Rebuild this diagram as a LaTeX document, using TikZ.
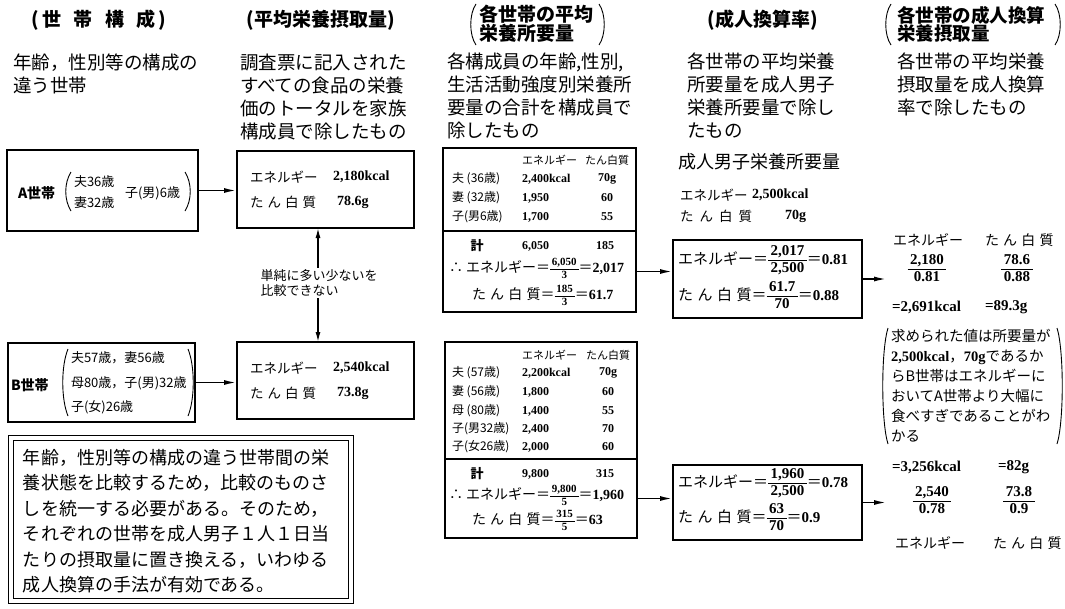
\RequirePackage{fix-cm}
\documentclass[tikz,border=0pt]{standalone}
\usepackage{amsmath}
\usepackage{fontspec}
\setmainfont{Noto Sans CJK JP}
\newfontfamily\numf{Liberation Serif}
\usetikzlibrary{arrows.meta}
\newcommand\fsz[2]{\fontsize{#1}{#2}\selectfont}
\newcommand\nm[1]{{\numf\bfseries #1}}
\newcommand\tpk{た\hspace{0.3em}ん\hspace{0.3em}白\hspace{0.3em}質}
\newcommand\cfr[2]{{\setlength\arrayrulewidth{0.9pt}\def\arraystretch{0.75}\begin{tabular}{@{\,}c@{\,}}\nm{#1}\\\noalign{\vskip0.5pt}\hline\noalign{\vskip1.8pt}\nm{#2}\end{tabular}}}
\newcommand\sfr[2]{{\fsz{11}{13}\cfr{#1}{#2}}}
\begin{document}
\begin{tikzpicture}[x=1pt,y=-1pt,
  every node/.style={inner sep=0pt, outer sep=0pt},
  box/.style={draw, line width=1.5pt},
  paren/.style={line width=0.9pt},
  arr/.style={-{Latex[length=13pt,width=5pt]}, line width=1.8pt},
  varr/.style={{Latex[length=10pt,width=5pt]}-{Latex[length=10pt,width=5pt]}, line width=1.4pt},
  hdr/.style={font=\fsz{19}{18}\bfseries},
  desc/.style={font=\fsz{18.5}{23}, align=left, anchor=north west},
  tb/.style={font=\fsz{12}{14}},
  lw/.style={anchor=west}]
\useasboundingbox (0,0) rectangle (1065,608);

% headers
\node[hdr] (h1) at (99,20) {(\,世\hspace{0.65em}帯\hspace{0.65em}構\hspace{0.65em}成\,)};
\node[hdr] (h2) at (321,20) {(平均栄養摂取量)};
\node[hdr, anchor=west, align=left] (h3) at (479,24) {各世帯の平均\\栄養所要量};
\draw[paren] (476,4) .. controls (469,14) and (469,35) .. (476,45);
\draw[paren] (599,4) .. controls (606,14) and (606,35) .. (599,45);
\node[hdr] (h4) at (763,20) {(成人換算率)};
\node[hdr, anchor=west, align=left, font=\fsz{18.5}{18}\bfseries] (h5) at (897,24) {各世帯の成人換算\\栄養摂取量};
\draw[paren] (891,4) .. controls (884,14) and (884,35) .. (891,45);
\draw[paren] (1055,4) .. controls (1062,14) and (1062,35) .. (1055,45);

% descriptions
\node[desc] (d1) at (13,54) {年齢，性別等の構成の\\違う世帯};
\node[desc] (d2) at (240,54) {調査票に記入された\\すべての食品の栄養\\価のトータルを家族\\構成員で除したもの};
\node[desc] (d3) at (447,53) {各構成員の年齢,性別,\\生活活動強度別栄養所\\要量の合計を構成員で\\除したもの};
\node[desc] (d4) at (687,53) {各世帯の平均栄養\\所要量を成人男子\\栄養所要量で除し\\たもの};
\node[desc] (d5) at (897,53) {各世帯の平均栄養\\摂取量を成人換算\\率で除したもの};

% household boxes
\node[box, minimum width=191pt, minimum height=81pt] (bA) at (102.5,190.5) {};
\node[lw, font=\fsz{14}{16}\bfseries] (bAlab) at (18,193) {A世帯};
\draw[paren] (71,172) .. controls (64,183) and (64,200) .. (71,211);
\draw[paren] (185,172) .. controls (192,183) and (192,200) .. (185,211);
\node[lw, font=\fsz{13}{16}] (bAm1) at (74,182) {夫36歳};
\node[lw, font=\fsz{13}{16}] (bAm2) at (74,203) {妻32歳};
\node[lw, font=\fsz{13}{16}] (bAm3) at (125,193) {子(男)6歳};

\node[box, minimum width=187pt, minimum height=79pt] (bB) at (101.5,382.5) {};
\node[lw, font=\fsz{14}{16}\bfseries] (bBlab) at (11,385) {B世帯};
\draw[paren] (68,349) .. controls (61,366) and (61,399) .. (68,416);
\draw[paren] (188,349) .. controls (195,366) and (195,399) .. (188,416);
\node[lw, font=\fsz{13}{16}] (bBm1) at (71,358) {夫57歳，妻56歳};
\node[lw, font=\fsz{13}{16}] (bBm2) at (71,383) {母80歳，子(男)32歳};
\node[lw, font=\fsz{13}{16}] (bBm3) at (71,407) {子(女)26歳};

% intake boxes
\node[box, minimum width=177pt, minimum height=77pt] (iA) at (325.5,189.5) {};
\node[lw, font=\fsz{13.5}{16}] (iAe) at (250,177) {エネルギー};
\node[lw, font=\fsz{14}{16}] (iAev) at (333,177) {\nm{2,180kcal}};
\node[lw, font=\fsz{13.5}{16}] (iAp) at (250,202) {\tpk};
\node[lw, font=\fsz{14}{16}] (iApv) at (337,202) {\nm{78.6g}};

\node[box, minimum width=177pt, minimum height=77pt] (iB) at (325.5,380.5) {};
\node[lw, font=\fsz{13.5}{16}] (iBe) at (250,368) {エネルギー};
\node[lw, font=\fsz{14}{16}] (iBev) at (333,368) {\nm{2,540kcal}};
\node[lw, font=\fsz{13.5}{16}] (iBp) at (250,393) {\tpk};
\node[lw, font=\fsz{14}{16}] (iBpv) at (337,393) {\nm{73.8g}};

\draw[arr] (bA.east) -- (bA.east -| iA.west);
\draw[arr] (bB.east) -- (bB.east -| iB.west);

% comparison arrow
\coordinate (cmpx) at (318,0);
\draw[varr] (iA.south -| cmpx) -- (iB.north -| cmpx);
\node[fill=white, align=left, font=\fsz{13}{15}, inner sep=1pt] (cmp) at (319,283) {単純に多い少ないを\\比較できない};

% requirement tables A
\node[box, minimum width=193pt, minimum height=83pt] (tA1) at (539.5,189.5) {};
\node[box, minimum width=193pt, minimum height=81pt] (tA2) at (539.5,271.5) {};
\node[lw, font=\fsz{11}{13}] (tAhe) at (522,160) {エネルギー};
\node[font=\fsz{11}{13}] (tAhp) at (607,160) {たん白質};
\foreach \lab/\en/\pr/\yy [count=\i] in {{夫 (36歳)}/{2,400kcal}/{70g}/179,{妻 (32歳)}/{1,950}/{60}/198,{子(男6歳)}/{1,700}/{55}/217}{
  \node[lw, tb] (tAl\i) at (452,\yy) {\lab};
  \node[lw, tb] (tAe\i) at (522,\yy) {\nm{\en}};
  \node[tb] (tAp\i) at (607,\yy) {\nm{\pr}};
}
\node[font=\fsz{13}{15}\bfseries] (tAsum) at (477,246) {計};
\node[lw, tb] (tAsume) at (522,246) {\nm{6,050}};
\node[tb] (tAsump) at (605,246) {\nm{185}};
\node[lw, font=\fsz{14}{16}] (tAce) at (449,270) {∴\ エネルギー＝\sfr{6,050}{3}＝\nm{2,017}};
\node[lw, font=\fsz{14}{16}] (tAcp) at (472,297) {\tpk＝\sfr{185}{3}＝\nm{61.7}};

% requirement tables B
\node[box, minimum width=192pt, minimum height=117pt] (tB1) at (541,400.5) {};
\node[box, minimum width=192pt, minimum height=79pt] (tB2) at (541,498.5) {};
\node[lw, font=\fsz{11}{13}] (tBhe) at (522,355) {エネルギー};
\node[font=\fsz{11}{13}] (tBhp) at (608,355) {たん白質};
\foreach \lab/\en/\pr/\yy [count=\i] in {{夫 (57歳)}/{2,200kcal}/{70g}/373,{妻 (56歳)}/{1,800}/{60}/392,{母 (80歳)}/{1,400}/{55}/411,{子(男32歳)}/{2,400}/{70}/429,{子(女26歳)}/{2,000}/{60}/447}{
  \node[lw, tb] (tBl\i) at (452,\yy) {\lab};
  \node[lw, tb] (tBe\i) at (522,\yy) {\nm{\en}};
  \node[tb] (tBp\i) at (608,\yy) {\nm{\pr}};
}
\node[font=\fsz{13}{15}\bfseries] (tBsum) at (477,474) {計};
\node[lw, tb] (tBsume) at (522,474) {\nm{9,800}};
\node[tb] (tBsump) at (605,474) {\nm{315}};
\node[lw, font=\fsz{14}{16}] (tBce) at (449,497) {∴\ エネルギー＝\sfr{9,800}{5}＝\nm{1,960}};
\node[lw, font=\fsz{14}{16}] (tBcp) at (472,522) {\tpk＝\sfr{315}{5}＝\nm{63}};

% adult male requirement
\node[lw, font=\fsz{18}{20}] (req) at (678,162) {成人男子栄養所要量};
\node[lw, font=\fsz{13.5}{16}] (reqe) at (680,195) {エネルギー};
\node[lw, font=\fsz{14}{16}] (reqev) at (752,195) {\nm{2,500kcal}};
\node[lw, font=\fsz{13.5}{16}] (reqp) at (680,216) {た\hspace{0.45em}ん\hspace{0.45em}白\hspace{0.45em}質};
\node[lw, font=\fsz{14}{16}] (reqpv) at (785,216) {\nm{70g}};

% rate boxes
\node[box, minimum width=189pt, minimum height=78pt] (rA) at (767.5,279) {};
\node[lw, font=\fsz{15}{18}] (rAe) at (678,261) {エネルギー＝\cfr{2,017}{2,500}＝\nm{0.81}};
\node[lw, font=\fsz{15}{18}] (rAp) at (678,297) {\tpk＝\cfr{61.7}{70}＝\nm{0.88}};
\node[box, minimum width=189pt, minimum height=75pt] (rB) at (767.5,502.5) {};
\node[lw, font=\fsz{15}{18}] (rBe) at (678,484) {エネルギー＝\cfr{1,960}{2,500}＝\nm{0.78}};
\node[lw, font=\fsz{15}{18}] (rBp) at (678,519) {\tpk＝\cfr{63}{70}＝\nm{0.9}};

\draw[arr] (tA2.east) -- (tA2.east -| rA.west);
\draw[arr] (tB2.east) -- (tB2.east -| rB.west);
\coordinate (oA) at (887,276);
\coordinate (oB) at (887,502);
\draw[arr] (rA.east) -- (rA.east -| oA);
\draw[arr] (rB.east) -- (rB.east -| oB);

% column 5
\node[lw, font=\fsz{14}{16}] (c5Ae) at (893,240) {エネルギー};
\node[lw, font=\fsz{14}{16}] (c5Ap) at (985,240) {\tpk};
\node[font=\fsz{15}{18}] (c5Af1) at (927,270) {\cfr{2,180}{0.81}};
\node[font=\fsz{15}{18}] (c5Af2) at (1017,270) {\cfr{78.6}{0.88}};
\node[lw, font=\fsz{15}{16}] (c5Ar1) at (892,307) {\nm{=2,691kcal}};
\node[lw, font=\fsz{15}{16}] (c5Ar2) at (985,307) {\nm{=89.3g}};
\draw[paren] (888,328) .. controls (881,350) and (881,422) .. (888,444);
\draw[paren] (1057,328) .. controls (1064,350) and (1064,422) .. (1057,444);
\node[anchor=north west, align=left, font=\fsz{14.5}{20}] (c5note) at (891,329.5) {求められた値は所要量が\\\nm{2,500kcal}，\nm{70g}であるか\\らB世帯はエネルギーに\\おいてA世帯より大幅に\\食べすぎであることがわ\\かる};
\node[lw, font=\fsz{15}{16}] (c5Br1) at (892,467) {\nm{=3,256kcal}};
\node[lw, font=\fsz{15}{16}] (c5Br2) at (998,467) {\nm{=82g}};
\node[font=\fsz{15}{18}] (c5Bf1) at (932,502) {\cfr{2,540}{0.78}};
\node[font=\fsz{15}{18}] (c5Bf2) at (1019,502) {\cfr{73.8}{0.9}};
\node[lw, font=\fsz{14}{16}] (c5Be) at (895,543) {エネルギー};
\node[lw, font=\fsz{14}{16}] (c5Bp) at (993,543) {\tpk};

% note box
\node[draw, double, double distance=4pt, line width=1pt, minimum width=340pt, minimum height=163pt] (note) at (180.5,519) {};
\node[anchor=north west, align=left, font=\fsz{18}{25.5}] (notetxt) at (23,449) {年齢，性別等の構成の違う世帯間の栄\\養状態を比較するため，比較のものさ\\しを統一する必要がある。そのため，\\それぞれの世帯を成人男子１人１日当\\たりの摂取量に置き換える，いわゆる\\成人換算の手法が有効である。};
\end{tikzpicture}
\end{document}
